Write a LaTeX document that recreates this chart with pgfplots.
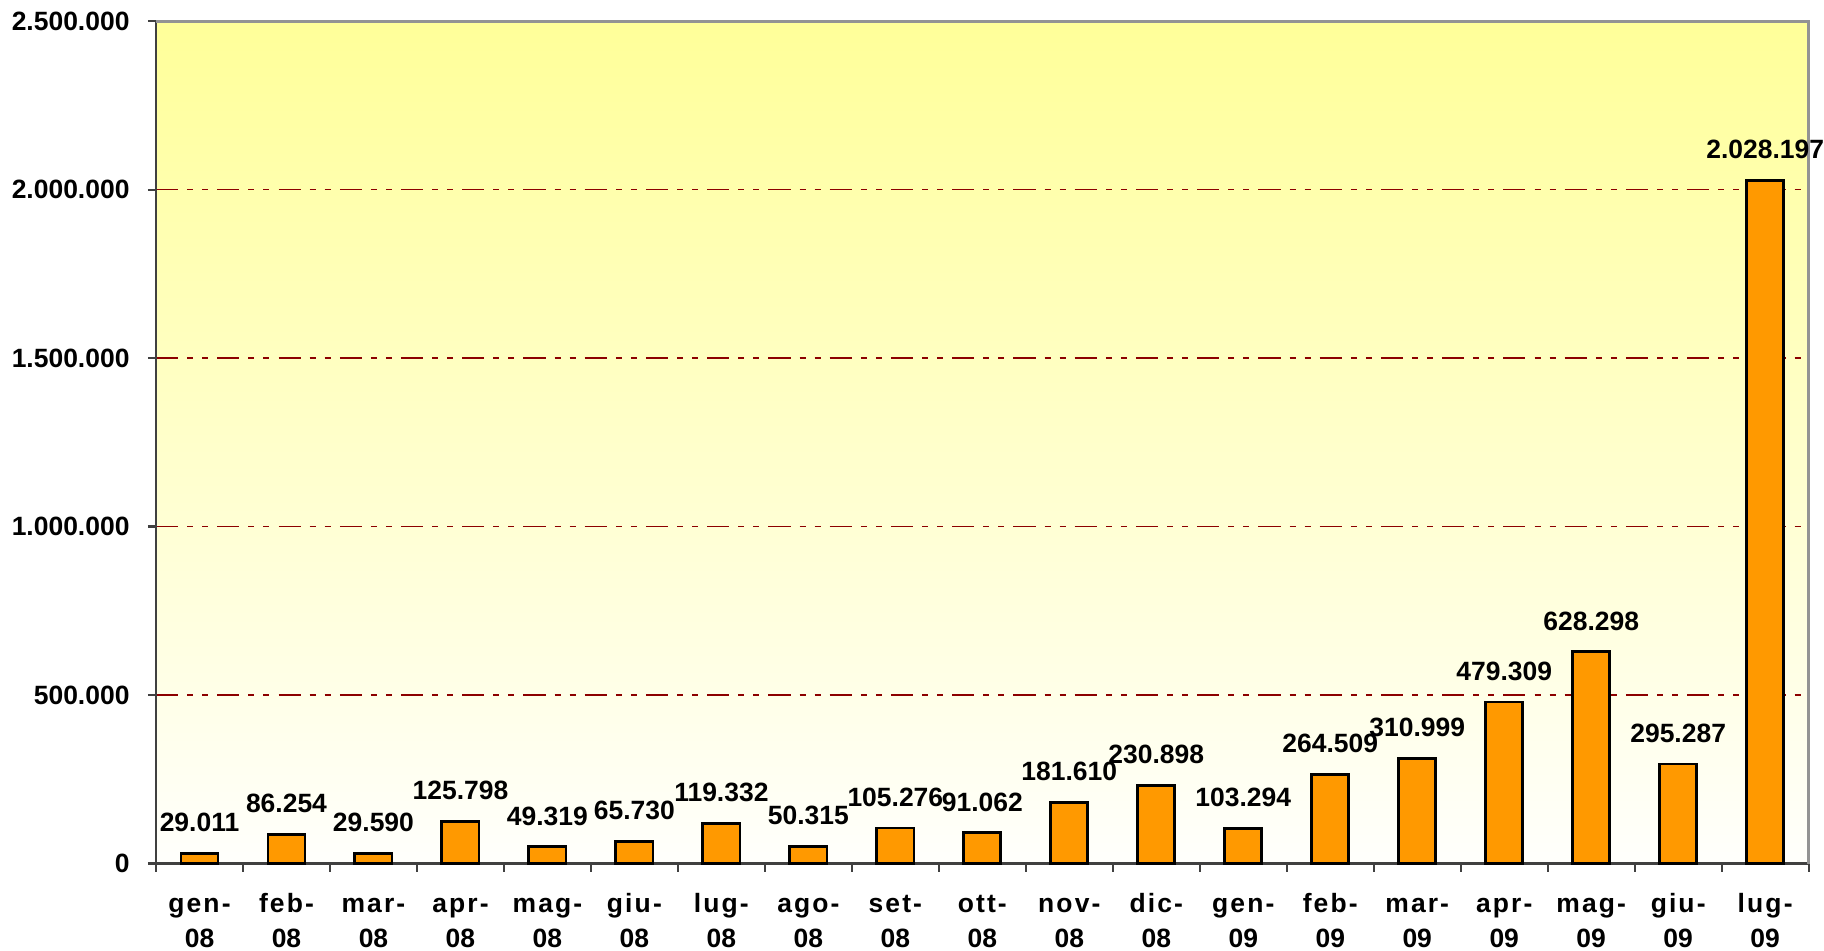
\documentclass[border=0pt]{standalone}
\usepackage{fontspec}
\setmainfont{Liberation Sans}
\usepackage{pgfplots}
\pgfplotsset{compat=1.18}

\definecolor{barorange}{RGB}{255,153,0}
\definecolor{gridred}{RGB}{140,0,0}
\definecolor{bgyellow}{RGB}{255,255,153}
\definecolor{axisdark}{RGB}{64,64,64}

% month label: spaced month name, year below
\newcommand{\mlab}[2]{{\addfontfeature{LetterSpace=8}\strut#1-}\\#2}

\begin{document}
\begin{tikzpicture}
\begin{axis}[
  width=16.46cm, height=8.39cm, scale only axis,
  xmin=-0.5, xmax=18.5, ymin=0, ymax=2500000,
  axis lines=left, axis line style={-, axisdark, line width=0.7pt},
  axis background/.style={top color=bgyellow, bottom color=white!97!bgyellow},
  ybar, bar width=0.37cm, bar shift=0pt,
  ytick={0,500000,...,2500000}, scaled y ticks=false,
  /pgf/number format/.cd, fixed, precision=0, 1000 sep={.}, assume math mode=true, /pgfplots/.cd,
  xtick={0,...,18}, major x tick style={draw=none},
  minor xtick={-0.5,0.5,...,18.5},
  xticklabels={\mlab{gen}{08},\mlab{feb}{08},\mlab{mar}{08},\mlab{apr}{08},\mlab{mag}{08},\mlab{giu}{08},\mlab{lug}{08},\mlab{ago}{08},\mlab{set}{08},\mlab{ott}{08},\mlab{nov}{08},\mlab{dic}{08},\mlab{gen}{09},\mlab{feb}{09},\mlab{mar}{09},\mlab{apr}{09},\mlab{mag}{09},\mlab{giu}{09},\mlab{lug}{09}},
  tick align=outside, major tick length=0.08cm, minor tick length=0.08cm,
  tick style={axisdark, line width=0.6pt},
  ticklabel style={font=\bfseries\fontsize{7.5}{9.9}\selectfont, black},
  xticklabel style={align=center, inner ysep=0.8pt, yshift=-0.13cm},
  yticklabel style={xshift=-0.06cm},
  ymajorgrids, grid style={gridred, line width=0.5pt, dash pattern=on 0.22cm off 0.09cm on 0.06cm off 0.09cm on 0.06cm off 0.09cm},
  nodes near coords,
  every node near coord/.append style={font=\bfseries\fontsize{7.5}{9}\selectfont, black, anchor=south, inner sep=0pt, yshift=0.2cm},
  clip=false,
]
\addplot[fill=barorange, draw=black, line width=0.8pt] coordinates {
  (0,29011) (1,86254) (2,29590) (3,125798) (4,49319) (5,65730) (6,119332)
  (7,50315) (8,105276) (9,91062) (10,181610) (11,230898) (12,103294)
  (13,264509) (14,310999) (15,479309) (16,628298) (17,295287) (18,2028197)
};
\draw[gray!85, line width=0.8pt] (rel axis cs:0,1) -- (rel axis cs:1,1) -- (rel axis cs:1,0);
\end{axis}
\end{tikzpicture}
\end{document}
